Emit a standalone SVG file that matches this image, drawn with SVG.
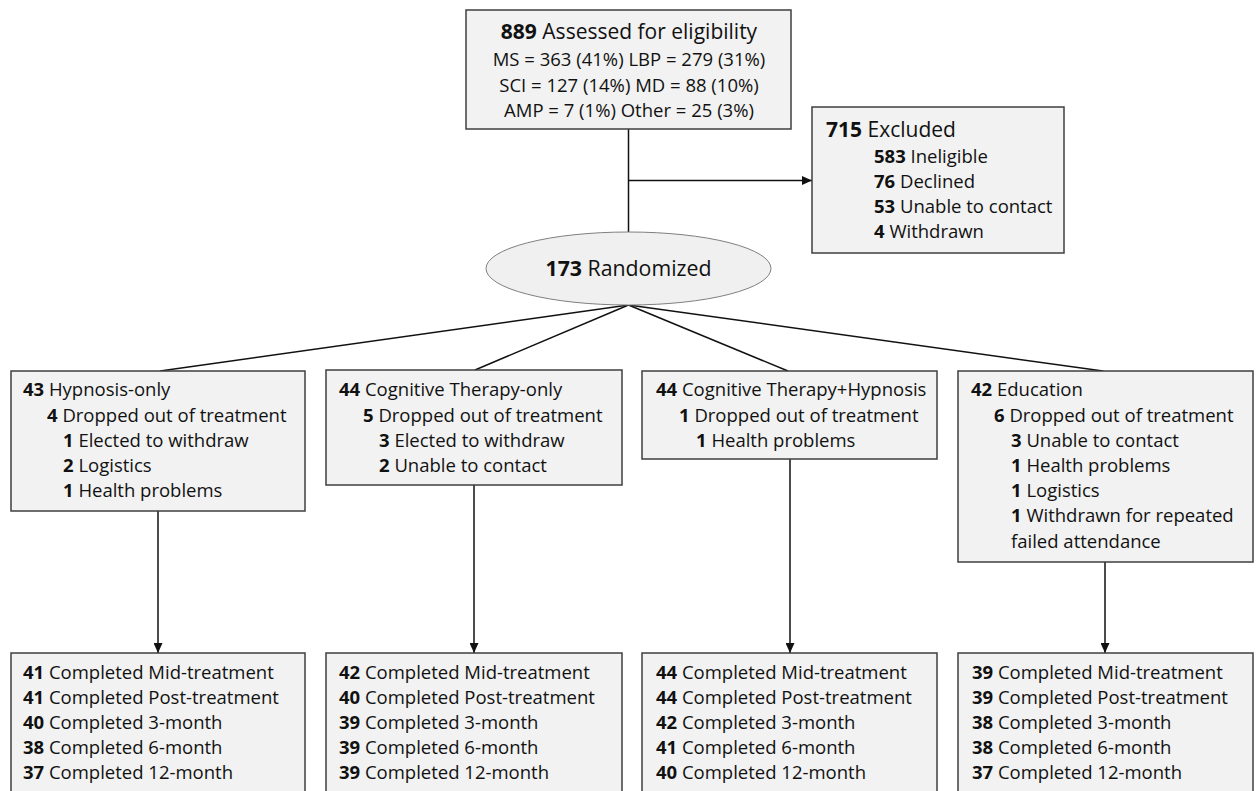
<svg xmlns="http://www.w3.org/2000/svg" width="1259" height="791" viewBox="0 0 1259 791">
<style>
text{font-family:"Open Sans","Noto Sans","Liberation Sans",sans-serif;font-size:18.5px;fill:#111}
.b{font-weight:bold}
.box{fill:#f2f2f2;stroke:#3f3f3f;stroke-width:1.5}
.ell{fill:#f0f0f0;stroke:#7f7f7f;stroke-width:1}
.ln{stroke:#111;stroke-width:1.5;fill:none}
.c{text-anchor:middle}
</style>
<defs>
<marker id="ah" markerWidth="10" markerHeight="9" refX="10" refY="4.5" orient="auto" markerUnits="userSpaceOnUse">
<path d="M0,0 L10,4.5 L0,9 Z" fill="#111"/>
</marker>
</defs>
<rect width="1259" height="791" fill="#fff"/>
<g id="connectors">
<line class="ln" x1="628.5" y1="129" x2="628.5" y2="232"/>
<line class="ln" x1="628.5" y1="180.5" x2="812" y2="180.5" marker-end="url(#ah)"/>
<line class="ln" x1="628.5" y1="305" x2="160" y2="371"/>
<line class="ln" x1="628.5" y1="305" x2="475" y2="370"/>
<line class="ln" x1="628.5" y1="305" x2="788" y2="371"/>
<line class="ln" x1="628.5" y1="305" x2="1103" y2="371"/>
<line class="ln" x1="158" y1="511" x2="158" y2="653" marker-end="url(#ah)"/>
<line class="ln" x1="474" y1="485" x2="474" y2="653" marker-end="url(#ah)"/>
<line class="ln" x1="790" y1="459" x2="790" y2="653" marker-end="url(#ah)"/>
<line class="ln" x1="1105" y1="562" x2="1105" y2="653" marker-end="url(#ah)"/>
</g>
<g id="assessed">
<rect class="box" x="466" y="10" width="325" height="119"/>
<text class="c" x="629" y="39" style="font-size:21px"><tspan class="b">889</tspan> Assessed for eligibility</text>
<text class="c" x="629" y="66">MS = 363 (41%) LBP = 279 (31%)</text>
<text class="c" x="629" y="92">SCI = 127 (14%) MD = 88 (10%)</text>
<text class="c" x="629" y="117">AMP = 7 (1%) Other = 25 (3%)</text>
</g>
<g id="excluded">
<rect class="box" x="812" y="107" width="252" height="146"/>
<text x="826" y="137" style="font-size:21px"><tspan class="b">715</tspan> Excluded</text>
<text x="874" y="163"><tspan class="b">583</tspan> Ineligible</text>
<text x="874" y="188"><tspan class="b">76</tspan> Declined</text>
<text x="874" y="213"><tspan class="b">53</tspan> Unable to contact</text>
<text x="874" y="238"><tspan class="b">4</tspan> Withdrawn</text>
</g>
<g id="randomized">
<ellipse class="ell" cx="628.5" cy="268.5" rx="142.5" ry="36.5"/>
<text class="c" x="628.5" y="276" style="font-size:21.3px"><tspan class="b">173</tspan> Randomized</text>
</g>
<g id="arm1">
<rect class="box" x="11" y="371" width="294" height="140"/>
<text x="23" y="396"><tspan class="b">43</tspan> Hypnosis-only</text>
<text x="47" y="422"><tspan class="b">4</tspan> Dropped out of treatment</text>
<text x="63" y="447"><tspan class="b">1</tspan> Elected to withdraw</text>
<text x="63" y="472"><tspan class="b">2</tspan> Logistics</text>
<text x="63" y="497"><tspan class="b">1</tspan> Health problems</text>
</g>
<g id="arm2">
<rect class="box" x="326" y="370" width="296" height="115"/>
<text x="339" y="396"><tspan class="b">44</tspan> Cognitive Therapy-only</text>
<text x="363" y="422"><tspan class="b">5</tspan> Dropped out of treatment</text>
<text x="379" y="447"><tspan class="b">3</tspan> Elected to withdraw</text>
<text x="379" y="472"><tspan class="b">2</tspan> Unable to contact</text>
</g>
<g id="arm3">
<rect class="box" x="642" y="371" width="295" height="88"/>
<text x="656" y="396"><tspan class="b">44</tspan> Cognitive Therapy+Hypnosis</text>
<text x="679" y="422"><tspan class="b">1</tspan> Dropped out of treatment</text>
<text x="696" y="447"><tspan class="b">1</tspan> Health problems</text>
</g>
<g id="arm4">
<rect class="box" x="958" y="371" width="295" height="191"/>
<text x="971" y="396"><tspan class="b">42</tspan> Education</text>
<text x="994" y="422"><tspan class="b">6</tspan> Dropped out of treatment</text>
<text x="1011" y="447"><tspan class="b">3</tspan> Unable to contact</text>
<text x="1011" y="472"><tspan class="b">1</tspan> Health problems</text>
<text x="1011" y="497"><tspan class="b">1</tspan> Logistics</text>
<text x="1011" y="522"><tspan class="b">1</tspan> Withdrawn for repeated</text>
<text x="1011" y="548">failed attendance</text>
</g>
<g id="out1">
<rect class="box" x="11" y="653" width="294" height="150"/>
<text x="23" y="679"><tspan class="b">41</tspan> Completed Mid-treatment</text>
<text x="23" y="704"><tspan class="b">41</tspan> Completed Post-treatment</text>
<text x="23" y="729"><tspan class="b">40</tspan> Completed 3-month</text>
<text x="23" y="754"><tspan class="b">38</tspan> Completed 6-month</text>
<text x="23" y="779"><tspan class="b">37</tspan> Completed 12-month</text>
</g>
<g id="out2">
<rect class="box" x="326" y="653" width="296" height="150"/>
<text x="339" y="679"><tspan class="b">42</tspan> Completed Mid-treatment</text>
<text x="339" y="704"><tspan class="b">40</tspan> Completed Post-treatment</text>
<text x="339" y="729"><tspan class="b">39</tspan> Completed 3-month</text>
<text x="339" y="754"><tspan class="b">39</tspan> Completed 6-month</text>
<text x="339" y="779"><tspan class="b">39</tspan> Completed 12-month</text>
</g>
<g id="out3">
<rect class="box" x="642" y="653" width="295" height="150"/>
<text x="656" y="679"><tspan class="b">44</tspan> Completed Mid-treatment</text>
<text x="656" y="704"><tspan class="b">44</tspan> Completed Post-treatment</text>
<text x="656" y="729"><tspan class="b">42</tspan> Completed 3-month</text>
<text x="656" y="754"><tspan class="b">41</tspan> Completed 6-month</text>
<text x="656" y="779"><tspan class="b">40</tspan> Completed 12-month</text>
</g>
<g id="out4">
<rect class="box" x="958" y="653" width="295" height="150"/>
<text x="972" y="679"><tspan class="b">39</tspan> Completed Mid-treatment</text>
<text x="972" y="704"><tspan class="b">39</tspan> Completed Post-treatment</text>
<text x="972" y="729"><tspan class="b">38</tspan> Completed 3-month</text>
<text x="972" y="754"><tspan class="b">38</tspan> Completed 6-month</text>
<text x="972" y="779"><tspan class="b">37</tspan> Completed 12-month</text>
</g>
</svg>
